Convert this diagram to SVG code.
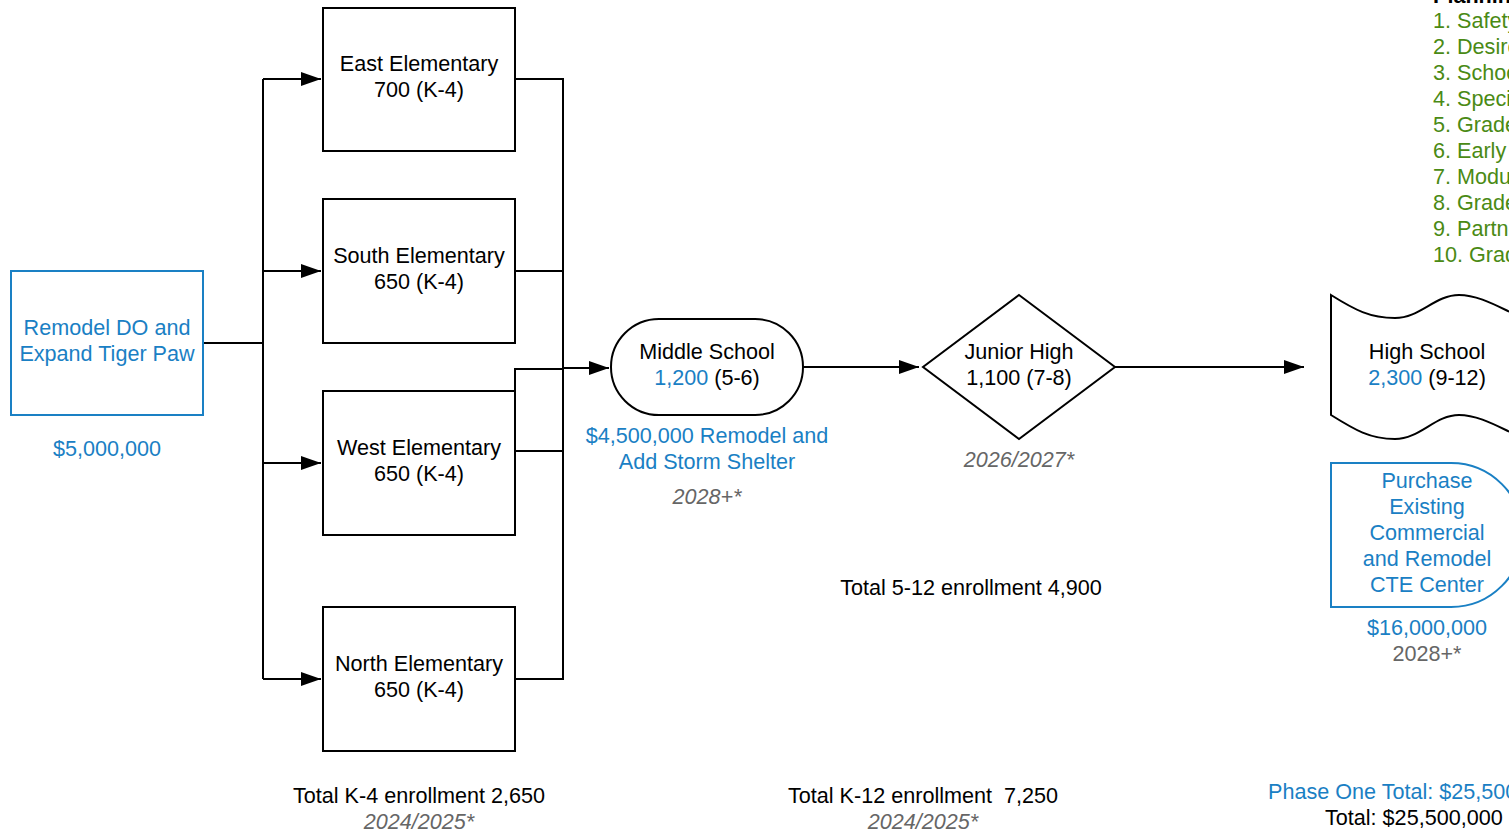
<svg xmlns="http://www.w3.org/2000/svg" width="1509" height="833" viewBox="0 0 1509 833">
<style>
text{font-family:"Liberation Sans",Arial,sans-serif;font-size:21.6px;fill:#000}
.c{text-anchor:middle}
.b{fill:#1a80c4}
.g{fill:#666}
.i{font-style:italic}
.gr{fill:#4a8a14}
.box{fill:#fff;stroke:#000;stroke-width:2}
.bbox{fill:#fff;stroke:#1a80c4;stroke-width:2}
.ln{fill:none;stroke:#000;stroke-width:2}
</style>
<defs>
<marker id="ar" markerWidth="22" markerHeight="16" refX="20" refY="8" orient="auto" markerUnits="userSpaceOnUse">
<path d="M0,1 L20,8 L0,15 Z" fill="#000"/>
</marker>
</defs>
<rect width="1509" height="833" fill="#fff"/>

<g id="connectors">
<path class="ln" d="M203,343 H263"/>
<path class="ln" d="M263,79 V679"/>
<path class="ln" d="M263,79 H321" marker-end="url(#ar)"/>
<path class="ln" d="M263,271 H321" marker-end="url(#ar)"/>
<path class="ln" d="M263,463 H321" marker-end="url(#ar)"/>
<path class="ln" d="M263,679 H321" marker-end="url(#ar)"/>
<path class="ln" d="M515,79 H563 V679 H515"/>
<path class="ln" d="M515,271 H563"/>
<path class="ln" d="M515,451 H563"/>
<path class="ln" d="M515,391 V369 H563"/>
<path class="ln" d="M563,368 H609" stroke-width="3" marker-end="url(#ar)"/>
<path class="ln" d="M803,367 H919" marker-end="url(#ar)"/>
<path class="ln" d="M1115,367 H1304" marker-end="url(#ar)"/>
</g>

<g id="remodel">
<rect class="bbox" x="11" y="271" width="192" height="144"/>
<text class="c b" x="107" y="335">Remodel DO and</text>
<text class="c b" x="107" y="361">Expand Tiger Paw</text>
<text class="c b" x="107" y="456">$5,000,000</text>
</g>

<g id="east">
<rect class="box" x="323" y="8" width="192" height="143"/>
<text class="c" x="419" y="71">East Elementary</text>
<text class="c" x="419" y="97">700 (K-4)</text>
</g>
<g id="south">
<rect class="box" x="323" y="199" width="192" height="144"/>
<text class="c" x="419" y="263">South Elementary</text>
<text class="c" x="419" y="289">650 (K-4)</text>
</g>
<g id="west">
<rect class="box" x="323" y="391" width="192" height="144"/>
<text class="c" x="419" y="455">West Elementary</text>
<text class="c" x="419" y="481">650 (K-4)</text>
</g>
<g id="north">
<rect class="box" x="323" y="607" width="192" height="144"/>
<text class="c" x="419" y="671">North Elementary</text>
<text class="c" x="419" y="697">650 (K-4)</text>
</g>

<g id="middle">
<rect class="box" x="611" y="319" width="192" height="96" rx="48" ry="48"/>
<text class="c" x="707" y="359">Middle School</text>
<text class="c" x="707" y="385"><tspan class="b">1,200</tspan> (5-6)</text>
<text class="c b" x="707" y="443">$4,500,000 Remodel and</text>
<text class="c b" x="707" y="469">Add Storm Shelter</text>
<text class="c g i" x="707" y="504">2028+*</text>
</g>

<g id="junior">
<path class="box" d="M1019,295 L1115,367 L1019,439 L923,367 Z"/>
<text class="c" x="1019" y="359">Junior High</text>
<text class="c" x="1019" y="385">1,100 (7-8)</text>
<text class="c g i" x="1019" y="467">2026/2027*</text>
</g>

<g id="high">
<path class="box" d="M1331,295 C1355,310 1370,318 1395,318 C1420,318 1435,295 1459,295 C1480,295 1500,308 1523,318 V438 C1500,428 1480,415 1459,415 C1435,415 1420,439 1395,439 C1370,439 1355,430 1331,415 Z"/>
<text class="c" x="1427" y="359">High School</text>
<text class="c" x="1427" y="385"><tspan class="b">2,300</tspan> (9-12)</text>
</g>

<g id="cte">
<path class="bbox" d="M1331,463 H1451 A72,72 0 0 1 1451,607 H1331 Z"/>
<text class="c b" x="1427" y="488">Purchase</text>
<text class="c b" x="1427" y="514">Existing</text>
<text class="c b" x="1427" y="540">Commercial</text>
<text class="c b" x="1427" y="566">and Remodel</text>
<text class="c b" x="1427" y="592">CTE Center</text>
<text class="c b" x="1427" y="635">$16,000,000</text>
<text class="c g" x="1427" y="661">2028+*</text>
</g>

<g id="legend">
<text x="1433" y="3" font-weight="bold">Planning Priorities</text>
<text class="gr" x="1433" y="28">1. Safety</text>
<text class="gr" x="1433" y="54">2. Desired</text>
<text class="gr" x="1433" y="80">3. School</text>
<text class="gr" x="1433" y="106">4. Special</text>
<text class="gr" x="1433" y="132">5. Grade</text>
<text class="gr" x="1433" y="158">6. Early</text>
<text class="gr" x="1433" y="184">7. Modular</text>
<text class="gr" x="1433" y="210">8. Grade</text>
<text class="gr" x="1433" y="236">9. Partner</text>
<text class="gr" x="1433" y="262">10. Grade</text>
</g>

<g id="totals">
<text class="c" x="971" y="595">Total 5-12 enrollment 4,900</text>
<text class="c" x="419" y="803">Total K-4 enrollment 2,650</text>
<text class="c g i" x="419" y="829">2024/2025*</text>
<text class="c" x="923" y="803" xml:space="preserve">Total K-12 enrollment  7,250</text>
<text class="c g i" x="923" y="829">2024/2025*</text>
<text class="b" x="1268" y="799">Phase One Total: $25,500,000</text>
<text x="1325" y="825">Total: $25,500,000</text>
</g>
</svg>
